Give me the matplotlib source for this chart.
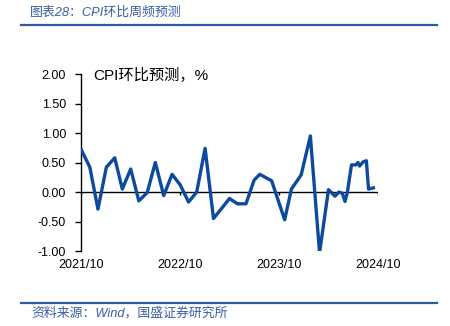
import matplotlib
matplotlib.use("Agg")
import matplotlib.pyplot as plt
from matplotlib.lines import Line2D
import pandas as pd

plt.rcParams['font.family'] = ['Liberation Sans', 'Noto Sans CJK SC', 'DejaVu Sans']
plt.rcParams['axes.unicode_minus'] = False

# monthly CPI m/m, then the weekly-frequency forecast at the tail
dates = [
    "2021-10-01", "2021-11-01", "2021-12-01", "2022-01-01", "2022-02-01",
    "2022-03-01", "2022-04-01", "2022-05-01", "2022-06-01", "2022-07-01",
    "2022-08-01", "2022-09-01", "2022-10-01", "2022-11-01", "2022-12-01",
    "2023-01-01", "2023-02-01", "2023-03-01", "2023-04-01", "2023-05-01",
    "2023-06-01", "2023-07-01", "2023-07-22", "2023-09-04", "2023-10-22",
    "2023-11-16", "2023-12-22", "2024-01-25", "2024-02-28", "2024-04-01",
    "2024-04-25", "2024-05-10", "2024-05-22", "2024-06-01", "2024-06-10",
    "2024-06-25", "2024-07-11", "2024-07-19", "2024-07-25", "2024-08-07",
    "2024-08-19", "2024-08-27", "2024-09-14",
]
cpi_mom = [
    0.71, 0.42, -0.29, 0.42, 0.58,
    0.05, 0.39, -0.15, -0.01, 0.50,
    -0.06, 0.30, 0.12, -0.17, 0.00,
    0.74, -0.45, -0.29, -0.11, -0.20,
    -0.20, 0.20, 0.30, 0.19, -0.47,
    0.05, 0.29, 0.95, -1.03, 0.04,
    -0.07, 0.00, -0.02, -0.16, 0.00,
    0.46, 0.46, 0.50, 0.44, 0.51,
    0.53, 0.05, 0.07,
]
year_ticks = ["2021-10-01", "2022-10-01", "2023-10-01", "2024-10-01"]
tick_labels = ["2021/10", "2022/10", "2023/10", "2024/10"]
y_ticks = [2.0, 1.5, 1.0, 0.5, 0.0, -0.5, -1.0]

x = pd.to_datetime(dates)
xt = pd.to_datetime(year_ticks)

fig = plt.figure(figsize=(4.5, 3.26), dpi=100)
ax = fig.add_axes([0.181, 0.230, 0.659, 0.543])

ax.plot(x, cpi_mom, color='#0B4A9E', lw=2.4, solid_joinstyle='round', zorder=3)

# zero line with small year ticks
ax.axhline(0, color='black', lw=1.0, zorder=2)
ax.vlines(xt, -0.05, 0, color='black', lw=1.0, zorder=2)

ax.set_xlim(xt[0], xt[-1])
ax.set_ylim(-1.0, 2.0)
ax.set_yticks(y_ticks)
ax.set_yticklabels([f"{v:.2f}" for v in y_ticks])
ax.set_xticks(xt)
ax.set_xticklabels(tick_labels)

for side in ['top', 'right', 'bottom']:
    ax.spines[side].set_visible(False)
ax.spines['left'].set_linewidth(1.0)
ax.tick_params(axis='y', direction='out', length=4, width=1.0, labelsize=9, pad=7)
ax.tick_params(axis='x', length=0, labelsize=9, pad=6)

ax.text(0.04, 0.99, "CPI环比预测，%", transform=ax.transAxes,
        fontsize=11, va='center', ha='left')

# header and footer
blue = '#2F5AA6'
fig.text(0.067, 0.962, "图表28：CPI环比周频预测", color='#3A5DA8', fontsize=9.3,
         style='italic', va='center', ha='left')
fig.add_artist(Line2D([0.047, 0.971], [0.923, 0.923], color=blue, lw=1.6,
                      transform=fig.transFigure))
fig.add_artist(Line2D([0.047, 0.971], [0.071, 0.071], color=blue, lw=1.6,
                      transform=fig.transFigure))
fig.text(0.069, 0.040, "资料来源：Wind，国盛证券研究所", color='#3A5DA8', fontsize=9.3,
         style='italic', va='center', ha='left')

fig.savefig("out.png", dpi=100)
